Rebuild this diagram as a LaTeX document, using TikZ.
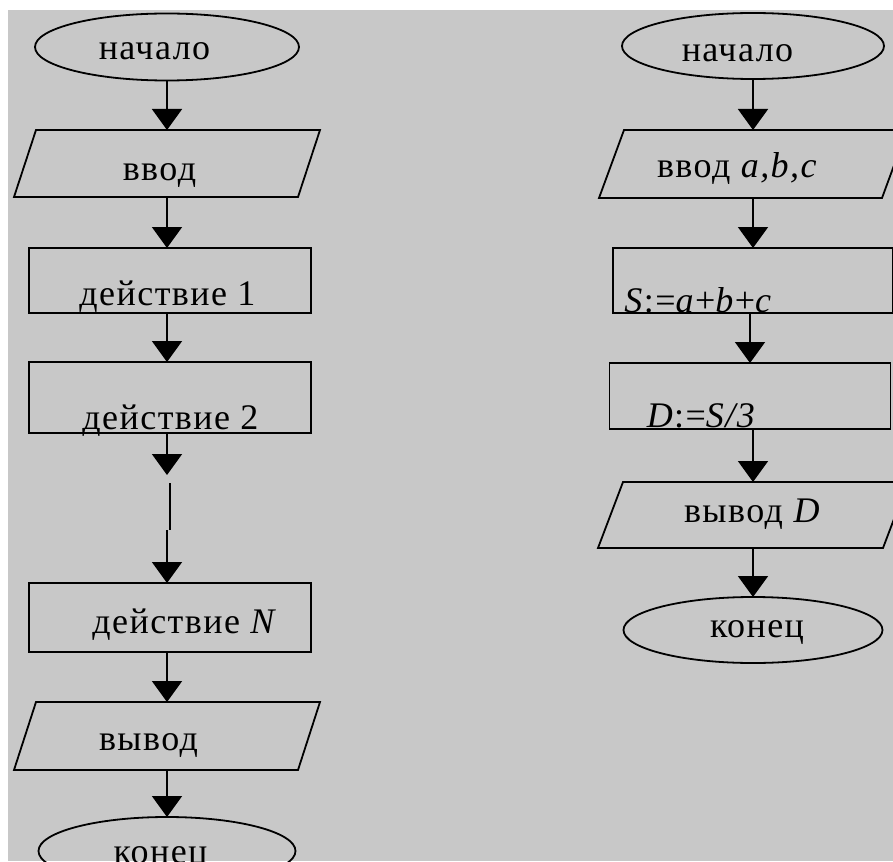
\documentclass[tikz,border=0pt]{standalone}
\usepackage{fontspec}
\setmainfont{Liberation Serif}
\newfontfamily\dfont[LetterSpace=4]{Liberation Serif}
\usetikzlibrary{shapes.geometric,arrows.meta}
\definecolor{bggray}{RGB}{200,200,200}
\begin{document}
\begin{tikzpicture}[x=1pt,y=-1pt,
  ln/.style={line width=1.8pt},
  arr/.style={line width=1.8pt,-{Triangle[width=30pt,length=21pt]}},
  term/.style={ellipse,draw,line width=1.8pt,inner sep=0pt,outer sep=0pt},
  proc/.style={rectangle,draw,line width=1.8pt,inner sep=0pt,outer sep=0pt},
  io/.style={rectangle,inner sep=0pt,outer sep=0pt},
  txt/.style={font=\dfont\fontsize{36}{42}\selectfont,inner sep=0pt,anchor=base},
]
\fill[white] (0,0) rectangle (893,861);
\fill[bggray] (8,10) rectangle (893,861);
\useasboundingbox (0,0) rectangle (893,861);
\clip (0,0) rectangle (893,861);

% ---------- left chart ----------
\node[term,minimum width=264pt,minimum height=67pt] (L1) at (167,47) {};
\node[io,minimum width=306pt,minimum height=67pt] (L2) at (167,163.5) {};
\node[proc,minimum width=282pt,minimum height=65pt] (L3) at (170,280.5) {};
\node[proc,minimum width=282pt,minimum height=71pt] (L4) at (170,397.5) {};
\coordinate (g0) at (167,475);
\coordinate (g1) at (170,483);
\coordinate (g2) at (170,530);
\coordinate (g3) at (167,530);
\node[proc,minimum width=282pt,minimum height=69pt] (LN) at (170,617.5) {};
\node[io,minimum width=306pt,minimum height=68pt] (L5) at (167,736) {};
\node[term,minimum width=257pt,minimum height=68pt] (L6) at (167,851) {};

\draw[ln] ([xshift=22pt]L2.north west) -- (L2.north east) -- ([xshift=-22pt]L2.south east) -- (L2.south west) -- cycle;
\draw[ln] ([xshift=22pt]L5.north west) -- (L5.north east) -- ([xshift=-22pt]L5.south east) -- (L5.south west) -- cycle;

\node[txt] (tL1) at (154.5,60) {начало};
\node[txt] (tL2) at (159.5,180) {ввод};
\node[txt] (tL3) at (167.5,305) {действие 1};
\node[txt] (tL4) at (170.5,429) {действие 2};
\node[txt] (tLN) at (185,633) {действие \textit{N}};
\node[txt] (tL5) at (148.5,750) {вывод};
\node[txt] (tL6) at (160.5,863) {конец};

\draw[arr] (L1) -- (L2);
\draw[arr] (L2) -- (L3.north -| L2);
\draw[arr] (L3.south -| L2) -- (L4.north -| L2);
\draw[arr] (L4.south -| g0) -- (g0);
\draw[ln] (g1) -- (g2);
\draw[arr] (g3) -- (LN.north -| g3);
\draw[arr] (LN.south -| L5) -- (L5);
\draw[arr] (L5) -- (L6);

% ---------- right chart ----------
\node[term,minimum width=262pt,minimum height=66pt] (R1) at (753,46) {};
\node[io,minimum width=308pt,minimum height=68pt] (R2) at (753,164) {};
\node[proc,minimum width=280pt,minimum height=65pt] (R3) at (753,280.5) {};
\node[proc,minimum width=281pt,minimum height=66pt] (R4) at (750,396) {};
\node[io,minimum width=310pt,minimum height=66pt] (R5) at (753,515) {};
\node[term,minimum width=259pt,minimum height=66pt] (R6) at (753,630) {};

\draw[ln] ([xshift=25pt]R2.north west) -- (R2.north east) -- ([xshift=-25pt]R2.south east) -- (R2.south west) -- cycle;
\draw[ln] ([xshift=25pt]R5.north west) -- (R5.north east) -- ([xshift=-25pt]R5.south east) -- (R5.south west) -- cycle;

\node[txt] (tR1) at (737.5,62) {начало};
\node[txt] (tR2) at (737.5,177) {ввод \textit{a,b,c}};
\node[txt] (tR3) at (698.5,312) {\textit{S}:=\textit{a}+\textit{b}+\textit{c}};
\node[txt] (tR4) at (701.5,427) {\textit{D}:=\textit{S/3}};
\node[txt] (tR5) at (752.5,522) {вывод \textit{D}};
\node[txt] (tR6) at (757,637) {конец};

\draw[arr] (R1) -- (R2);
\draw[arr] (R2) -- (R3);
\draw[arr] (R3.south -| R4) -- (R4);
\draw[arr] (R4.south -| R5) -- (R5);
\draw[arr] (R5) -- (R6);
\end{tikzpicture}
\end{document}
